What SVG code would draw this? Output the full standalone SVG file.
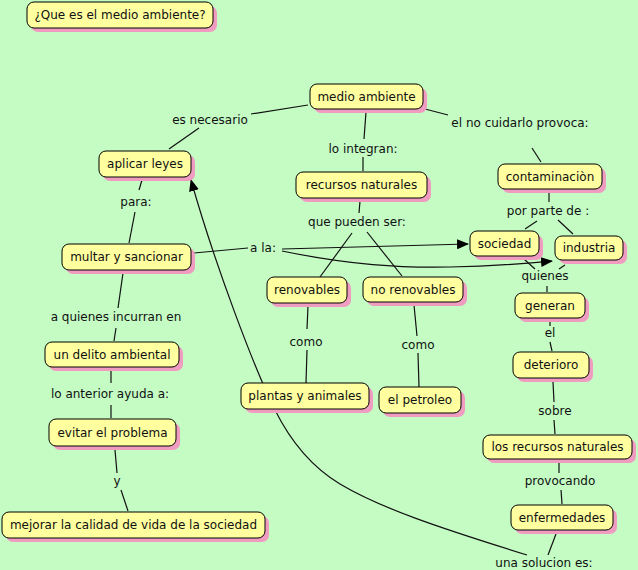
<svg xmlns="http://www.w3.org/2000/svg" width="638" height="570" viewBox="0 0 638 570">
<defs>
<style>
.bg{fill:#c4fcc4}
.sh{fill:#f09cc0}
.bx{fill:#ffffa0;stroke:#000;stroke-width:1}
text{font-family:"DejaVu Sans","Verdana",sans-serif;font-size:12px;fill:#111;text-anchor:middle;dominant-baseline:central}
.ln{fill:none;stroke:#111;stroke-width:1.2}
.ar{fill:none;stroke:#111;stroke-width:1.2;marker-end:url(#ah)}
</style>
<marker id="ah" viewBox="0 0 12 10" refX="11" refY="5" markerWidth="12" markerHeight="10" markerUnits="userSpaceOnUse" orient="auto">
<path d="M0,0 L12,5 L0,10 Z" fill="#000"/>
</marker>
</defs>
<rect class="bg" x="0" y="0" width="638" height="570"/>

<g id="connectors">
<line class="ln" x1="308" y1="105" x2="251" y2="114"/>
<line class="ln" x1="199" y1="128" x2="169" y2="149"/>
<line class="ln" x1="366" y1="112" x2="364" y2="139"/>
<line class="ln" x1="363" y1="157" x2="363" y2="171"/>
<line class="ln" x1="425" y1="109" x2="448" y2="115"/>
<line class="ln" x1="532" y1="148" x2="541" y2="162"/>
<line class="ln" x1="549" y1="193" x2="549" y2="202"/>
<line class="ln" x1="537" y1="221" x2="525" y2="229"/>
<line class="ln" x1="558" y1="220" x2="573" y2="234"/>
<line class="ln" x1="524" y1="259" x2="535" y2="269"/>
<line class="ln" x1="565" y1="265" x2="559" y2="269"/>
<line class="ln" x1="547" y1="286" x2="547" y2="292"/>
<line class="ln" x1="550" y1="321" x2="550" y2="326"/>
<line class="ln" x1="550" y1="342" x2="552" y2="351"/>
<line class="ln" x1="553" y1="382" x2="554" y2="402"/>
<line class="ln" x1="554" y1="420" x2="555" y2="434"/>
<line class="ln" x1="559" y1="463" x2="559" y2="473"/>
<line class="ln" x1="561" y1="490" x2="562" y2="504"/>
<line class="ln" x1="556" y1="534" x2="548" y2="555"/>
<line class="ln" x1="360" y1="201" x2="359" y2="213"/>
<line class="ln" x1="352" y1="233" x2="320" y2="277"/>
<line class="ln" x1="367" y1="232" x2="402" y2="276"/>
<line class="ln" x1="308" y1="306" x2="307" y2="329"/>
<line class="ln" x1="307" y1="350" x2="306" y2="383"/>
<line class="ln" x1="414" y1="305" x2="417" y2="336"/>
<line class="ln" x1="418" y1="353" x2="419" y2="387"/>
<line class="ln" x1="142" y1="180" x2="139" y2="190"/>
<line class="ln" x1="135" y1="212" x2="129" y2="243"/>
<line class="ln" x1="123" y1="273" x2="118" y2="308"/>
<line class="ln" x1="116" y1="328" x2="114" y2="341"/>
<line class="ln" x1="111" y1="370" x2="111" y2="383"/>
<line class="ln" x1="111" y1="405" x2="111" y2="418"/>
<line class="ln" x1="115" y1="450" x2="117" y2="473"/>
<line class="ln" x1="121" y1="490" x2="128" y2="511"/>
<line class="ln" x1="194" y1="253" x2="248" y2="248"/>
<line class="ar" x1="282" y1="249" x2="468" y2="244"/>
<path class="ar" d="M282,251 C350,265 400,268 450,267 S520,264 552,261"/>
<path class="ar" d="M527,555 C440,528 380,508 340,484 C310,466 290,440 275,410 C255,370 215,265 191,180"/>
</g>

<g id="n1"><rect class="sh" x="31" y="6" width="186" height="26" rx="7"/><rect class="bx" x="27" y="2" width="186" height="26" rx="7"/><text x="120" y="15">¿Que es el medio ambiente?</text></g>
<g id="n2"><rect class="sh" x="314" y="88" width="113" height="25" rx="7"/><rect class="bx" x="310" y="84" width="113" height="25" rx="7"/><text x="366.5" y="96.5">medio ambiente</text></g>
<g id="n3"><rect class="sh" x="300" y="176" width="131" height="26" rx="7"/><rect class="bx" x="296" y="172" width="131" height="26" rx="7"/><text x="361.5" y="185">recursos naturales</text></g>
<g id="n4"><rect class="sh" x="502" y="168" width="104" height="25" rx="7"/><rect class="bx" x="498" y="164" width="104" height="25" rx="7"/><text x="550" y="176.5">contaminaciòn</text></g>
<g id="n5"><rect class="sh" x="103" y="155" width="92" height="26" rx="7"/><rect class="bx" x="99" y="151" width="92" height="26" rx="7"/><text x="145" y="164">aplicar leyes</text></g>
<g id="n6"><rect class="sh" x="66" y="248" width="129" height="26" rx="7"/><rect class="bx" x="62" y="244" width="129" height="26" rx="7"/><text x="126.5" y="257">multar y sancionar</text></g>
<g id="n7"><rect class="sh" x="474" y="235" width="69" height="25" rx="7"/><rect class="bx" x="470" y="231" width="69" height="25" rx="7"/><text x="504.5" y="243.5">sociedad</text></g>
<g id="n8"><rect class="sh" x="559" y="240" width="68" height="24" rx="7"/><rect class="bx" x="555" y="236" width="68" height="24" rx="7"/><text x="589" y="248">industria</text></g>
<g id="n9"><rect class="sh" x="271" y="281" width="80" height="26" rx="7"/><rect class="bx" x="267" y="277" width="80" height="26" rx="7"/><text x="307" y="290">renovables</text></g>
<g id="n10"><rect class="sh" x="367" y="281" width="100" height="25" rx="7"/><rect class="bx" x="363" y="277" width="100" height="25" rx="7"/><text x="413" y="289.5">no renovables</text></g>
<g id="n11"><rect class="sh" x="519" y="297" width="70" height="25" rx="7"/><rect class="bx" x="515" y="293" width="70" height="25" rx="7"/><text x="550" y="305.5">generan</text></g>
<g id="n12"><rect class="sh" x="49" y="346" width="134" height="25" rx="7"/><rect class="bx" x="45" y="342" width="134" height="25" rx="7"/><text x="112" y="354.5">un delito ambiental</text></g>
<g id="n13"><rect class="sh" x="53" y="423" width="127" height="27" rx="7"/><rect class="bx" x="49" y="419" width="127" height="27" rx="7"/><text x="112.5" y="432.5">evitar el problema</text></g>
<g id="n14"><rect class="sh" x="245" y="387" width="128" height="26" rx="7"/><rect class="bx" x="241" y="383" width="128" height="26" rx="7"/><text x="305" y="396">plantas y animales</text></g>
<g id="n15"><rect class="sh" x="383" y="391" width="82" height="26" rx="7"/><rect class="bx" x="379" y="387" width="82" height="26" rx="7"/><text x="420" y="400">el petroleo</text></g>
<g id="n16"><rect class="sh" x="517" y="356" width="76" height="26" rx="7"/><rect class="bx" x="513" y="352" width="76" height="26" rx="7"/><text x="551" y="365">deterioro</text></g>
<g id="n17"><rect class="sh" x="487" y="439" width="149" height="24" rx="7"/><rect class="bx" x="483" y="435" width="149" height="24" rx="7"/><text x="557.5" y="447">los recursos naturales</text></g>
<g id="n18"><rect class="sh" x="515" y="509" width="102" height="25" rx="7"/><rect class="bx" x="511" y="505" width="102" height="25" rx="7"/><text x="562" y="517.5">enfermedades</text></g>
<g id="n19"><rect class="sh" x="6" y="516" width="263" height="26" rx="7"/><rect class="bx" x="2" y="512" width="263" height="26" rx="7"/><text x="133.5" y="525">mejorar la calidad de vida de la sociedad</text></g>

<g id="labels">
<text x="210" y="120">es necesario</text>
<text x="520" y="123">el no cuidarlo provoca:</text>
<text x="363" y="149">lo integran:</text>
<text x="136" y="202">para:</text>
<text x="263" y="248">a la:</text>
<text x="357" y="222">que pueden ser:</text>
<text x="548" y="211">por parte de :</text>
<text x="545" y="276">quienes</text>
<text x="116" y="317">a quienes incurran en</text>
<text x="110" y="394">lo anterior ayuda a:</text>
<text x="306" y="342">como</text>
<text x="418" y="345">como</text>
<text x="550" y="333">el</text>
<text x="555" y="411">sobre</text>
<text x="560" y="481">provocando</text>
<text x="544" y="563">una solucion es:</text>
<text x="117" y="481">y</text>
</g>
</svg>
